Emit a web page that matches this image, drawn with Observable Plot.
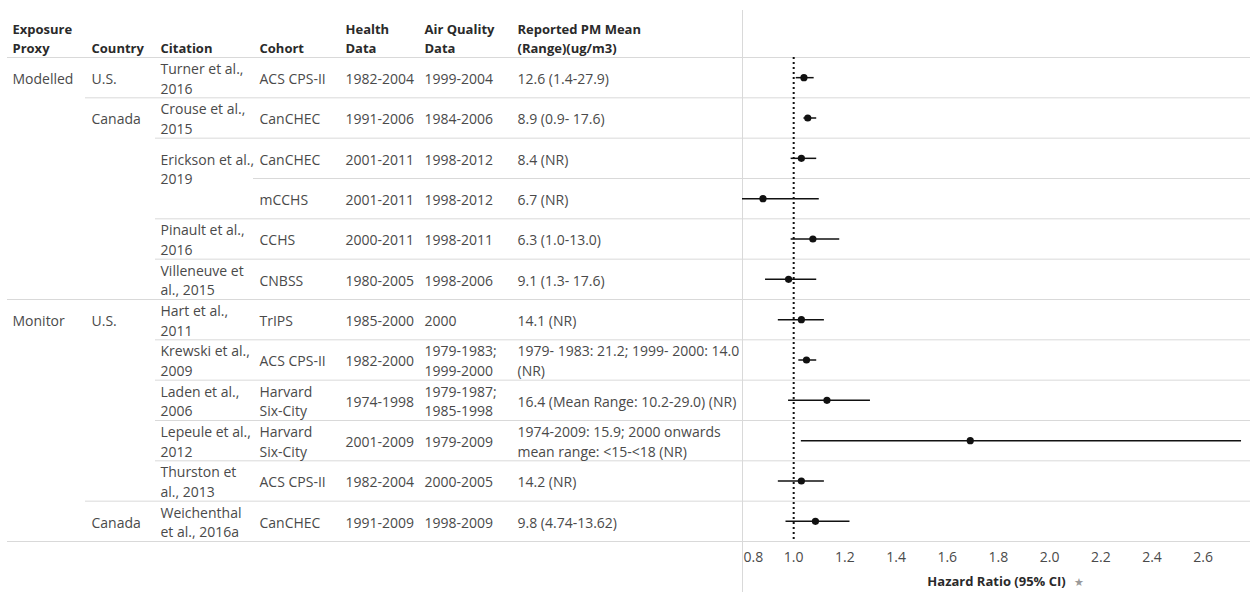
<!DOCTYPE html>
<html><head><meta charset="utf-8">
<script src="https://cdn.jsdelivr.net/npm/d3@7"></script>
<script src="https://cdn.jsdelivr.net/npm/@observablehq/plot@0.6"></script>
<style>body{margin:0;background:#fff;}</style>
</head><body><div id="chart"></div>
<script>
// ---------- data ----------
const columnHeaders = ["Exposure\nProxy", "Country", "Citation", "Cohort", "Health\nData", "Air Quality\nData", "Reported PM Mean\n(Range)(ug/m3)"];
const proxy = ["Modelled","Modelled","Modelled","Modelled","Modelled","Modelled","Monitor","Monitor","Monitor","Monitor","Monitor","Monitor"];
const country = ["U.S.","Canada","Canada","Canada","Canada","Canada","U.S.","U.S.","U.S.","U.S.","U.S.","Canada"];
const citation = ["Turner et al.,\n2016","Crouse et al.,\n2015","Erickson et al.,\n2019","Erickson et al.,\n2019","Pinault et al.,\n2016","Villeneuve et\nal., 2015","Hart et al.,\n2011","Krewski et al.,\n2009","Laden et al.,\n2006","Lepeule et al.,\n2012","Thurston et\nal., 2013","Weichenthal\net al., 2016a"];
const cohort = ["ACS CPS-II","CanCHEC","CanCHEC","mCCHS","CCHS","CNBSS","TrIPS","ACS CPS-II","Harvard\nSix-City","Harvard\nSix-City","ACS CPS-II","CanCHEC"];
const healthData = ["1982-2004","1991-2006","2001-2011","2001-2011","2000-2011","1980-2005","1985-2000","1982-2000","1974-1998","2001-2009","1982-2004","1991-2009"];
const airQualityData = ["1999-2004","1984-2006","1998-2012","1998-2012","1998-2011","1998-2006","2000","1979-1983;\n1999-2000","1979-1987;\n1985-1998","1979-2009","2000-2005","1998-2009"];
const pmMean = ["12.6 (1.4-27.9)","8.9 (0.9- 17.6)","8.4 (NR)","6.7 (NR)","6.3 (1.0-13.0)","9.1 (1.3- 17.6)","14.1 (NR)","1979- 1983: 21.2; 1999- 2000: 14.0\n(NR)","16.4 (Mean Range: 10.2-29.0) (NR)","1974-2009: 15.9; 2000 onwards\nmean range: <15-<18 (NR)","14.2 (NR)","9.8 (4.74-13.62)"];
const hazardRatio = [1.04, 1.055, 1.03, 0.88, 1.075, 0.98, 1.03, 1.05, 1.13, 1.69, 1.03, 1.085];
const ciLower    = [1.01, 1.04, 0.99, 0.80, 0.99, 0.89, 0.94, 1.02, 0.98, 1.03, 0.94, 0.97];
const ciUpper    = [1.08, 1.09, 1.09, 1.10, 1.18, 1.09, 1.12, 1.09, 1.30, 2.75, 1.12, 1.22];
const xTicks = [0.8, 1.0, 1.2, 1.4, 1.6, 1.8, 2.0, 2.2, 2.4, 2.6];
const xDomain = [0.8, 2.785];
const referenceValue = 1.0;
const axisTitle = "Hazard Ratio (95% CI)";

// ---------- layout ----------
const W = 1250, H = 592, paneLeft = 742, mTop = 57, mBottom = 51;
const colX = [12, 91, 160, 259, 345, 424, 517];
const ruleStartX = [7, 85, 155, 253];
const nRows = hazardRatio.length;
const rowPx = (H - mTop - mBottom) / nRows;
const bodyFont = 14, lineH = 1.4;
const textColor = "#4a4a4a", headColor = "#2a2a2a", gridColor = "#d9d9d9";

const rows = hazardRatio.map((v, i) => ({i, y: i + 0.5, hr: v, lo: ciLower[i], hi: ciUpper[i]}));

// merged (spanning) labels for hierarchical columns
function spans(arr, parents) {
  const out = [];
  for (let i = 0; i < arr.length; i++) {
    const same = i > 0 && arr[i] === arr[i - 1] && parents.every(p => p[i] === p[i - 1]);
    if (same) out[out.length - 1].n++;
    else out.push({start: i, n: 1, text: arr[i]});
  }
  return out;
}
const spanY = d => {
  const lines = d.text.split("\n").length;
  return d.start + 0.5 + (d.n > 1 ? (lines - 1) * bodyFont * lineH / 2 / rowPx : 0);
};
const proxySpans = spans(proxy, []);
const countrySpans = spans(country, [proxy]);
const citationSpans = spans(citation, [proxy, country]);

// separators between rows, starting at the first column whose value changes
const boundaries = [];
for (let b = 0; b <= nRows; b++) {
  let level;
  if (b === 0 || b === nRows || proxy[b] !== proxy[b - 1]) level = 0;
  else if (country[b] !== country[b - 1]) level = 1;
  else if (citation[b] !== citation[b - 1]) level = 2;
  else level = 3;
  boundaries.push({y: b, level});
}

const spanText = (data, j) => Plot.text(data, {
  y: spanY, text: "text", frameAnchor: "left", textAnchor: "start",
  dx: colX[j] - paneLeft, lineHeight: lineH, fill: textColor, fontSize: bodyFont
});
const colText = (arr, j) => Plot.text(rows, {
  y: "y", text: d => arr[d.i], frameAnchor: "left", textAnchor: "start",
  dx: colX[j] - paneLeft, lineHeight: lineH, fill: textColor, fontSize: bodyFont
});

const chart = Plot.plot({
  width: W, height: H,
  marginLeft: paneLeft, marginRight: 0, marginTop: mTop, marginBottom: mBottom,
  style: {fontFamily: "'Open Sans', sans-serif", fontSize: "14px", color: textColor, background: "#fff"},
  x: {domain: xDomain},
  y: {domain: [0, nRows], reverse: true, axis: null},
  marks: [
    ...ruleStartX.map((sx, lv) => Plot.ruleY(boundaries.filter(d => d.level === lv), {
      y: "y", stroke: gridColor, strokeWidth: 1, insetLeft: sx - paneLeft
    })),
    Plot.ruleX([xDomain[0]], {stroke: gridColor, strokeWidth: 1, insetTop: -(mTop - 10), insetBottom: -mBottom}),
    Plot.ruleX([referenceValue], {stroke: "#111", strokeWidth: 2, strokeDasharray: "2,3"}),
    Plot.ruleY(rows, {y: "y", x1: "lo", x2: "hi", stroke: "#111", strokeWidth: 1.5}),
    Plot.dot(rows, {y: "y", x: "hr", r: 3.6, fill: "#111", stroke: null}),
    spanText(proxySpans, 0),
    spanText(countrySpans, 1),
    spanText(citationSpans, 2),
    colText(cohort, 3),
    colText(healthData, 4),
    colText(airQualityData, 5),
    colText(pmMean, 6),
    ...columnHeaders.map((h, j) => Plot.text([h], {
      text: d => d, frameAnchor: "top-left", textAnchor: "start", lineAnchor: "bottom",
      dx: colX[j] - paneLeft, dy: -5, lineHeight: 1.42, fontWeight: "bold", fontSize: 13, fill: headColor
    })),
    Plot.axisX({ticks: xTicks.filter(t => t > xDomain[0]), tickFormat: d3.format(".1f"), tickSize: 0, tickPadding: 11, label: null, fill: textColor, fontSize: 14}),
    Plot.axisX({ticks: [xDomain[0]], tickFormat: d3.format(".1f"), tickSize: 0, tickPadding: 11, label: null, textAnchor: "start", dx: 1, fill: textColor, fontSize: 14}),
    Plot.text([axisTitle], {text: d => d, frameAnchor: "bottom", dy: 44, fontWeight: "bold", fontSize: 13, fill: headColor}),
    Plot.text(["\u2605"], {text: d => d, frameAnchor: "bottom", dx: 82, dy: 44, fontSize: 11, fill: "#9a9a9a"})
  ]
});
document.getElementById("chart").appendChild(chart);
</script>
</body></html>
